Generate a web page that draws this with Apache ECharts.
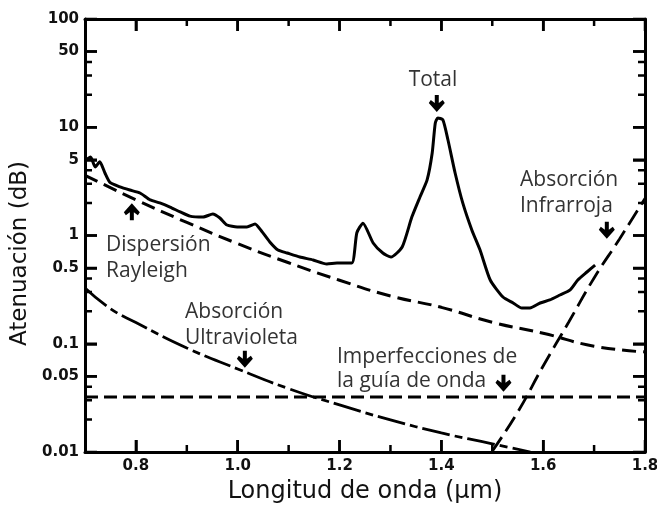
<!DOCTYPE html>
<html><head><meta charset="utf-8">
<script src="https://cdn.jsdelivr.net/npm/echarts@6/dist/echarts.min.js"></script>
<style>html,body{margin:0;padding:0;background:#fff}#c{width:657px;height:505px}</style>
</head><body><div id="c"></div>
<script>
// ---- data ----
const totalX = [0.700,0.711,0.720,0.729,0.739,0.749,0.769,0.788,0.808,0.828,0.847,0.867,0.887,0.906,0.932,0.951,0.965,0.979,0.999,1.018,1.034,1.048,1.063,1.079,1.097,1.122,1.148,1.175,1.195,1.224,1.234,1.246,1.266,1.285,1.301,1.323,1.342,1.358,1.372,1.382,1.388,1.393,1.403,1.413,1.427,1.442,1.460,1.476,1.496,1.521,1.541,1.558,1.574,1.594,1.613,1.633,1.653,1.668,1.686,1.702];
const totalY = [4.9,5.3,4.3,4.8,3.8,3.1,2.81,2.63,2.47,2.13,2.00,1.83,1.65,1.51,1.48,1.58,1.45,1.25,1.20,1.20,1.28,1.08,0.871,0.734,0.689,0.632,0.594,0.546,0.557,0.557,1.06,1.30,0.853,0.689,0.632,0.783,1.48,2.27,3.26,5.78,10.9,12.2,11.7,7.62,3.78,2.00,1.12,0.734,0.388,0.270,0.238,0.214,0.214,0.238,0.254,0.282,0.314,0.388,0.460,0.533];

const rayleighX = [0.7,0.8,0.9,1.0,1.1,1.2,1.3,1.4,1.5,1.6,1.7,1.8];
const rayleighY = [3.6,2.14,1.32,0.84,0.56,0.386,0.276,0.217,0.158,0.125,0.095,0.084];

const uvX = [0.7,0.75,0.8,0.9,1.0,1.1,1.2,1.3,1.4,1.5,1.575];
const uvY = [0.327,0.211,0.157,0.0914,0.0585,0.0385,0.0272,0.0198,0.015,0.0119,0.0100];

const guideX = [0.7,1.8];
const guideY = [0.0322,0.0322];

const irX = [1.5,1.55,1.6,1.65,1.7,1.75,1.8];
const irY = [0.0102,0.0234,0.0623,0.158,0.405,0.93,2.2];

const arrowX = [1.391,0.792,1.014,1.522,1.725];
const arrowY = [16.6,1.66,0.0718,0.0431,1.12];
const arrowUp = [false,true,false,false,false];

const xMajor = [0.8,1.0,1.2,1.4,1.6,1.8];
const xMinor = [0.9,1.1,1.3,1.5,1.7];
const yMajor = [0.01,0.05,0.1,0.5,1,5,10,50,100];
const yMinor = [0.02,0.03,0.04,0.2,0.3,0.4,2,3,4,20,30,40];

const zip = (xs, ys) => xs.map((x, i) => [x, ys[i]]);

const AX = '#000';
const X_MIN = 0.7, X_MAX = 1.8, Y_MIN = 0.01, Y_MAX = 100;
const tickFont = () => ({fontFamily:'DejaVu Sans', fontWeight:'bold', fontSize:15, color:'#111'});
const majorTick = vals => ({show:true, inside:true, length:12, customValues:vals, lineStyle:{color:AX, width:2.5}});

const baseSeries = [
  {type:'line', name:'Total', symbol:'none', data:zip(totalX,totalY), smooth:0.2,
    lineStyle:{color:'#000', width:3}},
  {type:'line', name:'Rayleigh', symbol:'none', data:zip(rayleighX,rayleighY), smooth:true,
    lineStyle:{color:'#000', width:3, type:[14,7]}},
  {type:'line', name:'Ultravioleta', symbol:'none', data:zip(uvX,uvY), smooth:true,
    lineStyle:{color:'#000', width:2.8, type:[28,5,8,5]}},
  {type:'line', name:'Guía', symbol:'none', data:zip(guideX,guideY),
    lineStyle:{color:'#000', width:3, type:[13,6]}},
  {type:'line', name:'Infrarroja', symbol:'none', data:zip(irX,irY), smooth:true,
    lineStyle:{color:'#000', width:2.8, type:[17,7]}}
];

const chart = echarts.init(document.getElementById('c'), null, {renderer:'canvas'});
chart.setOption({
  animation:false,
  backgroundColor:'#fff',
  grid:{left:85, right:12, top:19, bottom:53, containLabel:false, outerBoundsMode:'none'},
  xAxis:[
    {type:'value', min:X_MIN, max:X_MAX, position:'bottom',
      axisLine:{show:true, onZero:false, lineStyle:{color:AX, width:3}},
      axisTick:majorTick(xMajor),
      axisLabel:Object.assign({show:true, customValues:xMajor, margin:7, formatter:v=>Number(v).toFixed(1)}, tickFont()),
      splitLine:{show:false},
      name:'Longitud de onda (μm)', nameLocation:'middle', nameGap:28,
      nameTextStyle:{fontFamily:'DejaVu Sans', fontSize:24, color:'#111'}},
    {type:'value', min:X_MIN, max:X_MAX, position:'top',
      axisLine:{show:true, onZero:false, lineStyle:{color:AX, width:3}},
      axisTick:majorTick(xMajor), axisLabel:{show:false}, splitLine:{show:false}}
  ],
  yAxis:[
    {type:'log', logBase:10, min:Y_MIN, max:Y_MAX, position:'left',
      axisLine:{show:true, onZero:false, lineStyle:{color:AX, width:3}},
      axisTick:majorTick(yMajor),
      axisLabel:Object.assign({show:true, customValues:yMajor, margin:6, formatter:v=>String(+Number(v).toPrecision(2))}, tickFont()),
      splitLine:{show:false},
      name:'Atenuación (dB)', nameLocation:'middle', nameGap:43,
      nameTextStyle:{fontFamily:'DejaVu Sans', fontSize:23, color:'#111', padding:[0,36,0,0]}},
    {type:'log', logBase:10, min:Y_MIN, max:Y_MAX, position:'right',
      axisLine:{show:true, onZero:false, lineStyle:{color:AX, width:3}},
      axisTick:majorTick(yMajor), axisLabel:{show:false}, splitLine:{show:false}}
  ],
  series:baseSeries
});

// ---- tick marks as a broken line series, lengths converted from pixels through the scales ----
const finder = {xAxisIndex:0, yAxisIndex:0};
const px = (x, y) => chart.convertToPixel(finder, [x, y]);
const ok = p => p && isFinite(p[0]) && isFinite(p[1]);
const pa = px(X_MIN, Y_MIN), pb = px(X_MAX, Y_MAX);
const unitsPerPxX = (X_MAX - X_MIN) / (pb[0] - pa[0]);
const decadesPerPxY = Math.log10(Y_MAX / Y_MIN) / (pa[1] - pb[1]);
const tickPts = [];
function tX(v, len){
  const f = Math.pow(10, len * decadesPerPxY);
  tickPts.push([v, Y_MIN], [v, Y_MIN * f], [v, '-']);
  tickPts.push([v, Y_MAX], [v, Y_MAX / f], [v, '-']);
}
function tY(v, len){
  const d = len * unitsPerPxX;
  tickPts.push([X_MIN, v], [X_MIN + d, v], [X_MIN + d, '-']);
  tickPts.push([X_MAX, v], [X_MAX - d, v], [X_MAX - d, '-']);
}
if (isFinite(unitsPerPxX) && isFinite(decadesPerPxY)) {
  xMajor.forEach(v => tX(v, 12));
  xMinor.forEach(v => tX(v, 7));
  yMajor.forEach(v => tY(v, 12));
  yMinor.forEach(v => tY(v, 7));
}

// ---- annotations (arrows + texts) ----
const els = [];
const ARROW = [[6,0],[10,0],[10,8],[14,5],[16,8],[8,17],[0,8],[2,5],[6,8]];
arrowX.forEach((x, i) => {
  const c = px(x, arrowY[i]);
  if (!ok(c)) return;
  const pts = ARROW.map(q => [c[0] + q[0] - 8, c[1] + (arrowUp[i] ? -(q[1] - 8.5) : (q[1] - 8.5))]);
  els.push({type:'polygon', silent:true, z:10, shape:{points:pts}, style:{fill:'#000'}});
});
function label(text, x, y, align){
  els.push({type:'text', silent:true, z:10, style:{text:text, x:x, y:y, align:align||'left', verticalAlign:'middle',
    fontFamily:'Open Sans', fontSize:21, fill:'#333'}});
}
label('Total', 433, 80, 'center');
label('Dispersión', 106, 245);
label('Rayleigh', 106, 271);
label('Absorción', 185, 312);
label('Ultravioleta', 185, 338);
label('Imperfecciones de', 337, 357);
label('la guía de onda', 337, 381);
label('Absorción', 520, 180);
label('Infrarroja', 520, 206);

chart.setOption({
  series: baseSeries.concat([{type:'line', name:'ticks', symbol:'none', silent:true, connectNulls:false,
    clip:false, z:4, data:tickPts, lineStyle:{color:AX, width:2.5}}]),
  graphic: els
});
</script>
</body></html>
